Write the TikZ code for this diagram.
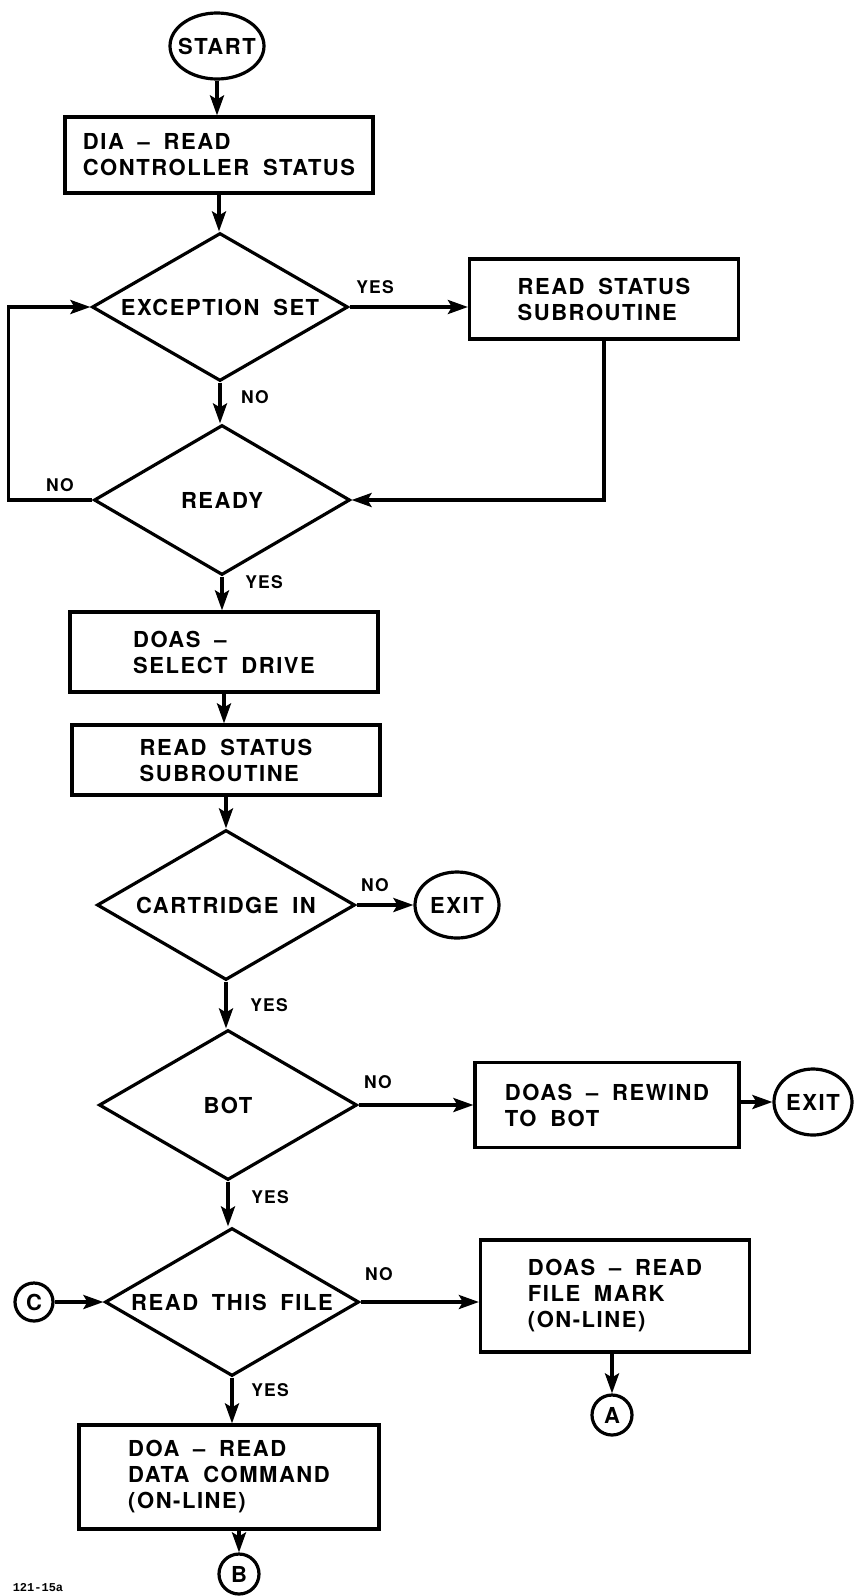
\documentclass[tikz,border=0pt]{standalone}
\usepackage{fontspec}
\setmainfont{TeX Gyre Heros}[LetterSpace=7,WordSpace=1.8]
\setmonofont{Liberation Mono}
\usetikzlibrary{shapes.geometric,arrows.meta}
\begin{document}
\begin{tikzpicture}[x=1pt,y=-1pt,
  line width=3.4pt,
  arr/.style={-{Stealth[length=20pt,width=14pt,inset=4pt]}},
  txt/.style={font=\bfseries\fontsize{22}{26}\selectfont},
  lbl/.style={font=\bfseries\fontsize{17.5}{20}\selectfont,inner sep=0pt},
  procbox/.style={draw,rectangle,txt,align=left,inner sep=0pt,line width=3.2pt},
  decis/.style={draw,diamond,txt,inner sep=0pt,aspect=1.7,line width=3.2pt},
  term/.style={draw,ellipse,txt,inner sep=0pt,line width=3.2pt},
  conn/.style={draw,circle,txt,inner sep=0pt,minimum size=40pt,line width=3.2pt}]
\useasboundingbox (0,0) rectangle (863,1596);

\node[term,minimum width=94pt,minimum height=66pt] (start) at (217,46) {\makebox[0pt]{START}};
\node[procbox,minimum width=308pt,minimum height=76pt] (dia) at (219,155) {DIA -- READ\\CONTROLLER STATUS};
\node[decis,minimum width=256pt,minimum height=148pt] (exc) at (220,307) {\makebox[0pt]{EXCEPTION SET}};
\node[procbox,minimum width=269pt,minimum height=80pt] (sub) at (604,299) {READ STATUS\\SUBROUTINE};
\node[decis,minimum width=256pt,minimum height=150pt] (ready) at (222,500) {\makebox[0pt]{READY}};
\node[procbox,minimum width=308pt,minimum height=80pt] (sel) at (224,652) {DOAS --\\SELECT DRIVE};
\node[procbox,minimum width=308pt,minimum height=70pt] (rs) at (226,760) {READ STATUS\\SUBROUTINE};
\node[decis,minimum width=258pt,minimum height=150pt] (cart) at (226,905) {\makebox[0pt]{CARTRIDGE IN}};
\node[term,minimum width=84pt,minimum height=66pt] (exitA) at (457,905) {\makebox[0pt]{EXIT}};
\node[decis,minimum width=258pt,minimum height=150pt] (bot) at (228,1105) {\makebox[0pt]{BOT}};
\node[procbox,minimum width=264pt,minimum height=85pt] (rew) at (607,1105) {DOAS -- REWIND\\TO BOT};
\node[term,minimum width=78pt,minimum height=66pt] (exitB) at (813,1102) {\makebox[0pt]{EXIT}};
\node[decis,minimum width=254pt,minimum height=148pt] (rtf) at (232,1302) {\makebox[0pt]{READ THIS FILE}};
\node[conn,minimum size=38pt] (cc) at (34,1302) {C};
\node[procbox,minimum width=269pt,minimum height=112pt] (fm) at (615,1296) {DOAS -- READ\\FILE MARK\\(ON-LINE)};
\node[conn] (ca) at (612,1415) {A};
\node[procbox,minimum width=300pt,minimum height=104pt] (doa) at (229,1477) {DOA -- READ\\DATA COMMAND\\(ON-LINE)};
\node[conn] (cb) at (239,1574) {B};
\node[font=\ttfamily\bfseries\fontsize{12}{14}\selectfont,inner sep=0pt] (fig) at (38,1588) {121-15a};

\draw[arr] (start.south) -- (start.south |- dia.north);
\draw[arr] (dia.south) -- (dia.south |- exc.north);
\draw[arr] (exc.south) -- (exc.south |- ready.north);
\node[lbl] (lno1) at (255,397) {NO};
\draw[arr] (exc.east) -- (exc.east -| sub.west);
\node[lbl] (lyes1) at (375,287) {YES};
\draw[arr] (sub.south) |- (ready.east);
\draw[arr] (ready.west) -- ++(-84,0) |- (exc.west);
\node[lbl] (lno2) at (60,485) {NO};
\draw[arr] (ready.south) -- (ready.south |- sel.north);
\node[lbl] (lyes2) at (264,582) {YES};
\draw[arr] (sel.south) -- (sel.south |- rs.north);
\draw[arr] (rs.south) -- (rs.south |- cart.north);
\draw[arr] (cart.east) -- (exitA.west);
\node[lbl] (lno3) at (375,885) {NO};
\draw[arr] (cart.south) -- (cart.south |- bot.north);
\node[lbl] (lyes3) at (269,1005) {YES};
\draw[arr] (bot.east) -- (bot.east -| rew.west);
\node[lbl] (lno4) at (378,1082) {NO};
\draw[arr] (rew.east |- exitB.west) -- (exitB.west);
\draw[arr] (bot.south) -- (bot.south |- rtf.north);
\node[lbl] (lyes4) at (270,1197) {YES};
\draw[arr] (cc.east) -- (rtf.west);
\draw[arr] (rtf.east) -- (rtf.east -| fm.west);
\node[lbl] (lno5) at (379,1274) {NO};
\draw[arr] (ca.north |- fm.south) -- (ca.north);
\draw[arr] (rtf.south) -- (rtf.south |- doa.north);
\node[lbl] (lyes5) at (270,1390) {YES};
\draw[arr] (cb.north |- doa.south) -- (cb.north);
\end{tikzpicture}
\end{document}
